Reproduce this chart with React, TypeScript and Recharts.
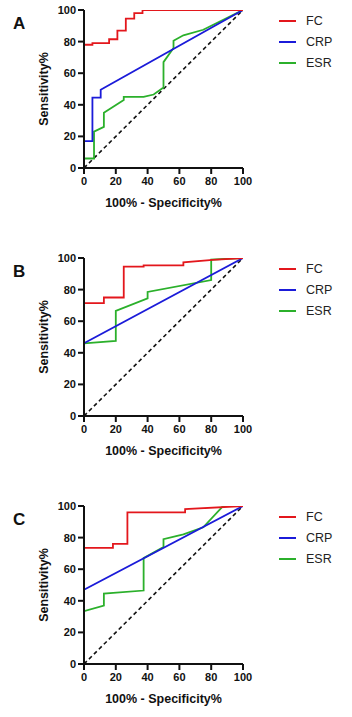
import React from 'react';
import { LineChart, Line, XAxis, YAxis, Legend, Label } from 'recharts';

type Pt = [number, number];

// axis + legend text
const axisTicks = [0, 20, 40, 60, 80, 100];
const xTitle = '100% - Specificity%';
const yTitle = 'Sensitivity%';
const seriesNames = ['FC', 'CRP', 'ESR'];
const seriesColors = ['#e3171c', '#1b1bd9', '#2bb02b'];
const panelLetters = ['A', 'B', 'C'];

// reference line
const diagonal: Pt[] = [[0, 0], [100, 100]];

// panel A
const fcA: Pt[] = [[0, 0], [0, 78], [5.3, 78], [5.3, 79], [15.8, 79], [15.8, 81.5], [21, 81.5], [21, 87], [26.3, 87], [26.3, 94.5], [31.6, 94.5], [31.6, 98], [36.8, 98], [36.8, 100], [100, 100]];
const crpA: Pt[] = [[0, 0], [0, 17], [5.3, 17], [5.3, 44.5], [10.5, 44.5], [10.5, 49.5], [100, 100]];
const esrA: Pt[] = [[0, 0], [0, 6], [6.3, 6], [6.3, 23], [12.5, 26], [12.5, 35], [25, 43], [25, 45], [37.5, 45], [43.8, 46.5], [50, 51], [50, 67], [56.3, 76], [56.3, 80.5], [62.5, 84], [75, 87.5], [100, 100]];

// panel B
const fcB: Pt[] = [[0, 0], [0, 71.5], [12.5, 71.5], [12.5, 75], [25, 75], [25, 94.5], [37.5, 94.5], [37.5, 95.3], [62.5, 95.3], [62.5, 97.3], [81, 98.8], [100, 100]];
const crpB: Pt[] = [[0, 0], [0, 46], [100, 100]];
const esrB: Pt[] = [[0, 0], [0, 46], [20, 47.5], [20, 66.5], [40, 74.5], [40, 78.5], [80, 86], [80, 99], [100, 100]];

// panel C
const fcC: Pt[] = [[0, 0], [0, 73.5], [18.2, 73.5], [18.2, 76], [27.3, 76], [27.3, 96], [63.6, 96], [63.6, 98], [100, 100]];
const crpC: Pt[] = [[0, 0], [0, 47], [100, 100]];
const esrC: Pt[] = [[0, 0], [0, 33.5], [12.5, 37], [12.5, 44.5], [37.5, 46.5], [37.5, 67], [50, 74], [50, 79], [62.5, 82], [75, 86.5], [87.5, 100], [100, 100]];

const panels = [
  { top: 0, series: [fcA, crpA, esrA] },
  { top: 248, series: [fcB, crpB, esrB] },
  { top: 496, series: [fcC, crpC, esrC] },
];

const toRows = (pts: Pt[]) => pts.map(([x, y]) => ({ x, y }));

const font = '"Liberation Sans", Arial, sans-serif';
const tickStyle = { fill: '#111', fontSize: 11, fontWeight: 700, fontFamily: font };
const axisStroke = { stroke: '#111', strokeWidth: 2 };

function RocLegend() {
  return (
    <div style={{ fontFamily: font, fontSize: 12.5, color: '#222' }}>
      {seriesNames.map((name, i) => (
        <div key={name} style={{ display: 'flex', alignItems: 'center', height: 21 }}>
          <svg width={17} height={4} style={{ marginRight: 10 }}>
            <line x1={0} y1={2} x2={17} y2={2} stroke={seriesColors[i]} strokeWidth={2} />
          </svg>
          <span>{name}</span>
        </div>
      ))}
    </div>
  );
}

function RocPanel({ letter, top, series }: { letter: string; top: number; series: Pt[][] }) {
  // draw ESR first, FC last so red sits on top
  const order = [2, 1, 0];
  return (
    <div style={{ position: 'absolute', left: 0, top, width: 352, height: 240 }}>
      <div
        style={{
          position: 'absolute', left: 13, top: 14, fontFamily: font,
          fontWeight: 700, fontSize: 17, lineHeight: '20px', color: '#111',
        }}
      >
        {letter}
      </div>
      <LineChart
        width={352}
        height={240}
        margin={{ top: 10, right: 109, bottom: 2, left: 4 }}
        style={{ fontFamily: font }}
      >
        <XAxis
          type="number"
          dataKey="x"
          domain={[0, 100]}
          ticks={axisTicks}
          height={70}
          tick={tickStyle}
          tickSize={6}
          tickMargin={3}
          axisLine={axisStroke}
          tickLine={axisStroke}
          allowDataOverflow
        >
          <Label value={xTitle} position="center" style={{ fontSize: 12.5, fontWeight: 700, fill: '#111', fontFamily: font }} />
        </XAxis>
        <YAxis
          type="number"
          domain={[0, 100]}
          ticks={axisTicks}
          width={80}
          tick={tickStyle}
          tickSize={6}
          tickMargin={2}
          axisLine={axisStroke}
          tickLine={axisStroke}
          allowDataOverflow
        >
          <Label value={yTitle} angle={-90} position="center" style={{ fontSize: 12.5, fontWeight: 700, fill: '#111', fontFamily: font }} />
        </YAxis>
        <Legend
          layout="horizontal"
          verticalAlign="middle"
          align="center"
          content={() => <RocLegend />}
          wrapperStyle={{ left: 279, top: 10, width: 70, right: 'auto', bottom: 'auto' }}
        />
        <Line
          data={toRows(diagonal)}
          dataKey="y"
          stroke="#111"
          strokeWidth={1.6}
          strokeDasharray="4 3"
          dot={false}
          legendType="none"
          isAnimationActive={false}
        />
        {order.map((i) => (
          <Line
            key={seriesNames[i]}
            name={seriesNames[i]}
            data={toRows(series[i])}
            dataKey="y"
            type="linear"
            stroke={seriesColors[i]}
            strokeWidth={1.8}
            dot={false}
            isAnimationActive={false}
          />
        ))}
      </LineChart>
    </div>
  );
}

export default function App() {
  return (
    <div style={{ position: 'absolute', left: 0, top: 0, width: 352, height: 717, overflow: 'hidden', background: '#fff' }}>
      {panels.map((p, i) => (
        <RocPanel key={panelLetters[i]} letter={panelLetters[i]} top={p.top} series={p.series} />
      ))}
    </div>
  );
}
